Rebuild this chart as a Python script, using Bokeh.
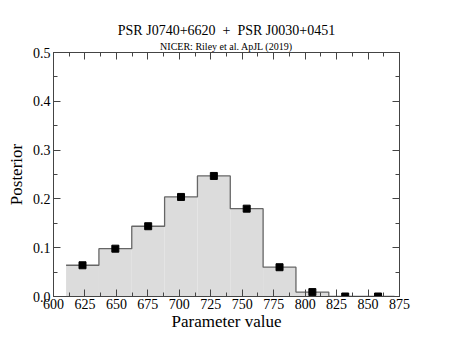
import numpy as np
from bokeh.plotting import figure
from bokeh.models import (Range1d, LinearAxis, SingleIntervalTicker, PrintfTickFormatter,
                          Title, ColumnDataSource, CustomJSTickFormatter)
from bokeh.embed import file_html
from bokeh.resources import INLINE

# ---- data ----
bin_centers = [623.05, 649.15, 675.25, 701.35, 727.45, 753.55, 779.65, 805.75, 831.85, 857.95]
bin_width = 26.1
posterior = [0.064, 0.098, 0.144, 0.204, 0.247, 0.180, 0.060, 0.009, 0.0, 0.0]
title_main = "PSR J0740+6620 \u00a0+\u00a0 PSR J0030+0451"
title_sub = "NICER: Riley et al. ApJL (2019)"
x_label = "Parameter value"
y_label = "Posterior"

FONT = "Liberation Serif"
AX = "#444444"

centers = np.array(bin_centers)
vals = np.array(posterior)
lefts = centers - bin_width / 2
rights = centers + bin_width / 2

p = figure(width=450, height=348, output_backend="svg", toolbar_location=None,
           x_range=Range1d(600, 875), y_range=Range1d(0, 0.5),
           min_border_left=53, min_border_right=51, min_border_top=52, min_border_bottom=52,
           x_axis_label=x_label, y_axis_label=y_label)
p.background_fill_color = "white"
p.border_fill_color = "white"
p.outline_line_color = None
p.xgrid.visible = False
p.ygrid.visible = False

def style(ax, labels=True):
    ax.axis_line_color = AX
    ax.major_tick_line_color = AX
    ax.minor_tick_line_color = AX
    ax.major_tick_in = 7
    ax.major_tick_out = 0
    ax.minor_tick_in = 4
    ax.minor_tick_out = 0
    ax.major_label_text_font = FONT
    ax.major_label_text_font_size = "14px"
    ax.major_label_text_color = "black"
    ax.axis_label_text_font = FONT
    ax.axis_label_text_font_size = "17px"
    ax.axis_label_text_font_style = "normal"
    ax.axis_label_text_color = "black"
    if not labels:
        ax.formatter = CustomJSTickFormatter(code="return ''")
        ax.major_label_standoff = 0

xa = p.below[0]
xa.ticker = SingleIntervalTicker(interval=25, num_minor_ticks=2)
style(xa)
xa.major_label_standoff = 2
xa.axis_label_standoff = 0

ya = p.left[0]
ya.ticker = SingleIntervalTicker(interval=0.1, num_minor_ticks=2)
ya.formatter = PrintfTickFormatter(format="%.1f")
style(ya)
ya.major_label_standoff = 3
ya.axis_label_standoff = 4

# top and right framing axes (ticks only)
top = LinearAxis(ticker=SingleIntervalTicker(interval=25, num_minor_ticks=2))
style(top, labels=False)
p.add_layout(top, "above")
right = LinearAxis(ticker=SingleIntervalTicker(interval=0.1, num_minor_ticks=2))
style(right, labels=False)
p.add_layout(right, "right")

# main title (outermost) and subtitle (inner)
p.title.text = title_main
p.title.align = "center"
p.title.text_font = FONT
p.title.text_font_size = "14px"
p.title.text_font_style = "normal"
p.title.text_color = "black"
p.title.standoff = 0
sub = Title(text=title_sub, align="center", text_font=FONT, text_font_size="10px",
            text_font_style="normal", text_color="black", standoff=2)
p.add_layout(sub, "above")

# histogram fill
src = ColumnDataSource(dict(left=lefts, right=rights, top=vals, bottom=np.zeros_like(vals)))
p.quad(left="left", right="right", top="top", bottom="bottom", source=src,
       fill_color="#dcdcdc", line_color=None)
# step outline
sx = np.append(lefts, rights[-1])
sy = np.append(vals, vals[-1])
p.step(x=sx, y=sy, mode="after", line_color="#666666", line_width=1.3)
# markers
p.scatter(x=centers, y=vals, marker="square", size=7, fill_color="black", line_color="black")

open("out.html", "w").write(file_html(p, INLINE))
